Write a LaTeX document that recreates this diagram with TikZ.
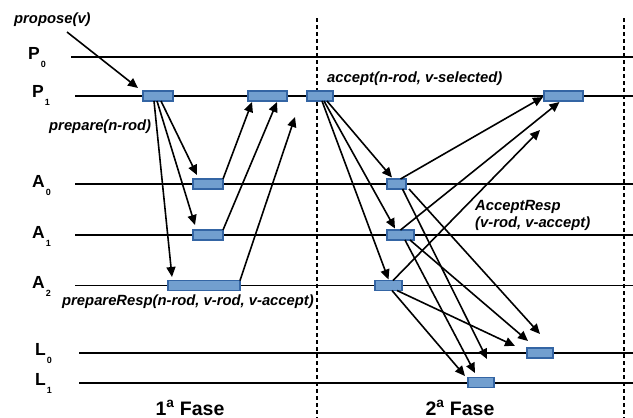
\documentclass[tikz,border=0pt]{standalone}
\usepackage{fontspec}
\setmainfont{Liberation Sans}
\usetikzlibrary{arrows.meta}
\definecolor{boxfill}{HTML}{729FCF}
\definecolor{boxdraw}{HTML}{3465A4}
\begin{document}
\begin{tikzpicture}[x=1pt,y=-1pt,
  actbox/.style={draw=boxdraw, fill=boxfill, line width=1.3pt, minimum height=10pt, inner sep=0pt, outer sep=0pt},
  tline/.style={line width=1.8pt},
  msg/.style={line width=1.6pt, -{Triangle[length=10pt,width=9pt]}},
  phase/.style={line width=2pt, dash pattern=on 4pt off 3pt},
  lbl/.style={font=\fontsize{14.8}{17}\selectfont\bfseries\itshape, inner sep=0pt, anchor=west},
  proc/.style={font=\fontsize{17.5}{19}\selectfont\bfseries, inner sep=0pt, anchor=base west},
  fase/.style={font=\fontsize{19.5}{22}\selectfont\bfseries, inner sep=0pt, anchor=base},
]
\useasboundingbox (0,0) rectangle (633,418);

% timelines
\coordinate (P0s) at (71,57.3);  \coordinate (P0e) at (633,57.3);
\coordinate (P1s) at (75,96);    \coordinate (P1e) at (633,96);
\coordinate (A0s) at (75,184);   \coordinate (A0e) at (633,184);
\coordinate (A1s) at (75,235);   \coordinate (A1e) at (633,235);
\coordinate (A2s) at (75,285.5); \coordinate (A2e) at (633,285.5);
\coordinate (L0s) at (79,353);   \coordinate (L0e) at (633,353);
\coordinate (L1s) at (79,382.7); \coordinate (L1e) at (633,382.7);
\foreach \t in {P0,P1,A0,A1,A2,L0,L1} \draw[tline] (\t s) -- (\t e);

% phase separators
\coordinate (D1s) at (316.5,18); \coordinate (D1e) at (316.5,418);
\coordinate (D2s) at (624,18);   \coordinate (D2e) at (624,418);
\draw[phase] (D1s) -- (D1e);
\draw[phase] (D2s) -- (D2e);

% process labels
\node[proc] (lP0) at (28,59)  {P\kern1pt\raisebox{-8pt}{\fontsize{9}{9}\selectfont 0}};
\node[proc] (lP1) at (32,97)  {P\kern1pt\raisebox{-8pt}{\fontsize{9}{9}\selectfont 1}};
\node[proc] (lA0) at (32,187) {A\kern1pt\raisebox{-8pt}{\fontsize{9}{9}\selectfont 0}};
\node[proc] (lA1) at (32,238) {A\kern1pt\raisebox{-8pt}{\fontsize{9}{9}\selectfont 1}};
\node[proc] (lA2) at (32,288) {A\kern1pt\raisebox{-8pt}{\fontsize{9}{9}\selectfont 2}};
\node[proc] (lL0) at (35,355) {L\kern1pt\raisebox{-8pt}{\fontsize{9}{9}\selectfont 0}};
\node[proc] (lL1) at (35,385) {L\kern1pt\raisebox{-8pt}{\fontsize{9}{9}\selectfont 1}};

% activity boxes
\node[actbox, minimum width=30pt] (P1a) at (158,96) {};
\node[actbox, minimum width=39pt] (P1b) at (267.5,96) {};
\node[actbox, minimum width=26pt] (P1c) at (320,96) {};
\node[actbox, minimum width=39pt] (P1d) at (563.5,96) {};
\node[actbox, minimum width=30pt] (A0a) at (208,184) {};
\node[actbox, minimum width=30pt] (A1a) at (208,235) {};
\node[actbox, minimum width=72pt] (A2a) at (204,285.5) {};
\node[actbox, minimum width=19pt] (A0b) at (396.5,184) {};
\node[actbox, minimum width=27pt] (A1b) at (400.5,235) {};
\node[actbox, minimum width=27pt] (A2b) at (388.5,285.5) {};
\node[actbox, minimum width=26pt] (L0b) at (540,353) {};
\node[actbox, minimum width=26pt] (L1b) at (481,382.5) {};

% free ends
\coordinate (pv) at (67,32);
\coordinate (fr1) at (295,117);
\coordinate (fr2) at (540,130);
\coordinate (fr3) at (487,359);

% phase 1
\draw[msg] (pv) -- ([shift={(-5,-3)}]P1a.north west);
\draw[msg] ([shift={(3,0)}]P1a.south) -- ([shift={(4,-4)}]A0a.north west);
\draw[msg] ([shift={(-1,0)}]P1a.south) -- ([shift={(2,-5)}]A1a.north west);
\draw[msg] ([shift={(-4,0)}]P1a.south) -- ([shift={(4,-3.5)}]A2a.north west);
\draw[msg] (A0a.north east) -- ([shift={(4,1)}]P1b.south west);
\draw[msg] (A1a.north east) -- ([shift={(-10,1)}]P1b.south east);
\draw[msg] (A2a.north east) -- (fr1);

% phase 2
\draw[msg] ([shift={(7,0)}]P1c.south) -- ([shift={(5,-1.5)}]A0b.north west);
\draw[msg] ([shift={(4,0)}]P1c.south) -- ([shift={(8,-1.5)}]A1b.north west);
\draw[msg] ([shift={(2,0)}]P1c.south) -- ([shift={(0,-1)}]A2b.north);
\draw[msg] ([shift={(4,0)}]A0b.north) -- ([shift={(-1,1)}]P1d.west);
\draw[msg] (A1b.north) -- ([shift={(-4,1)}]P1d.south);
\draw[msg] ([shift={(4.5,0)}]A2b.north) -- (fr2);
\draw[msg] ([shift={(3,0)}]A0b.south east) -- ([shift={(0,-14)}]L0b.north);
\draw[msg] ([shift={(6,0)}]A0b.south) -- (fr3);
\draw[msg] ([shift={(-4,0)}]A1b.south east) -- ([shift={(1,-7)}]L0b.north west);
\draw[msg] ([shift={(4.5,0)}]A1b.south) -- ([shift={(7,-4.5)}]L1b.north west);
\draw[msg] ([shift={(-5,0)}]A2b.south east) -- ([shift={(-12,-7)}]L0b.west);
\draw[msg] ([shift={(3.5,0)}]A2b.south) -- ([shift={(-3,-1.5)}]L1b.north west);

% message labels
\node[lbl] (tpropose) at (14,20) {propose(v)};
\node[lbl] (tprepare) at (49,127) {prepare(n-rod)};
\node[lbl] (tprepresp) at (62,302) {prepareResp(n-rod, v-rod, v-accept)};
\node[lbl] (taccept) at (327,79) {accept(n-rod, v-selected)};
\node[lbl, align=left] (taccresp) at (475,215) {AcceptResp\\(v-rod, v-accept)};

% phase labels
\node[fase] (f1) at (190,415.5) {1\textsuperscript{a} Fase};
\node[fase] (f2) at (460,415.5) {2\textsuperscript{a} Fase};
\end{tikzpicture}
\end{document}
